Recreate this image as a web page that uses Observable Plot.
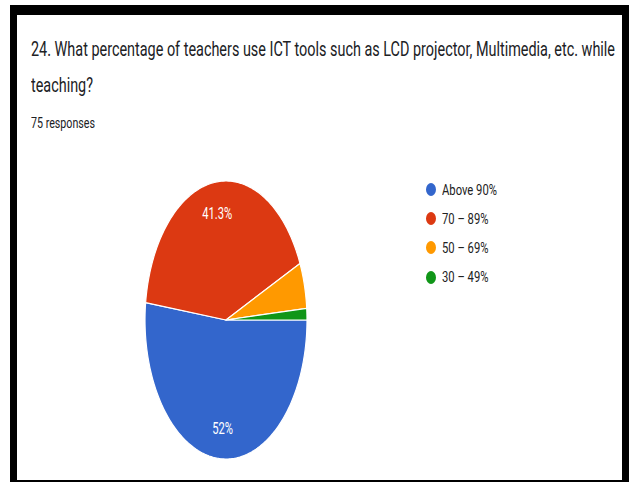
<!DOCTYPE html>
<html>
<head>
<meta charset="utf-8">
<script src="https://cdn.jsdelivr.net/npm/d3@7"></script>
<script src="https://cdn.jsdelivr.net/npm/@observablehq/plot@0.6"></script>
<style>
  html, body { margin: 0; padding: 0; background: #fff; }
  body { width: 629px; height: 482px; position: relative; overflow: hidden; font-family: Roboto, "Noto Sans", sans-serif; }
  #frame { position: absolute; left: 10px; top: 5px; width: 619px; height: 477px; box-sizing: border-box;
           border-left: 7px solid #000; border-right: 7px solid #000; border-top: 10px solid #000; border-bottom: 2px solid #000; }
  .t { position: absolute; white-space: nowrap; display: inline-block; transform-origin: 0 0; color: #202124; }
  .title { font-size: 21px; line-height: 21px; left: 31px; }
  .sub { font-size: 14.5px; line-height: 14px; left: 31px; }
  #chart { position: absolute; left: 0; top: 140px; }
  .leg { position: absolute; left: 426px; display: flex; align-items: center; height: 14px; }
  .leg .dot { width: 10px; height: 13px; border-radius: 50%; margin-right: 6px; flex: none; }
  .leg .lab { font-size: 15px; line-height: 14px; color: #222; white-space: nowrap; display: inline-block; transform-origin: 0 50%; }
</style>
</head>
<body>
<div id="frame"></div>
<div id="t1" class="t title" style="top:39px">24. What percentage of teachers use ICT tools such as LCD projector, Multimedia, etc. while</div>
<div id="t2" class="t title" style="top:75px">teaching?</div>
<div id="t3" class="t sub" style="top:117px">75 responses</div>
<div id="chart"></div>
<div id="legend"></div>
<script>
const categories = ["Above 90%", "70 – 89%", "50 – 69%", "30 – 49%"];
const counts = [39, 31, 4, 1];
const colors = ["#3366cc", "#dc3912", "#ff9900", "#109618"];
const totalResponses = 75;

// slice geometry from the counts (angles clockwise from 3 o'clock)
const total = d3.sum(counts);
const points = [];
const labelData = [];
let acc = 0;
categories.forEach((c, i) => {
  const a0 = acc / total * 2 * Math.PI;
  acc += counts[i];
  const a1 = acc / total * 2 * Math.PI;
  const n = Math.max(2, Math.ceil((a1 - a0) * 180 / Math.PI) + 1);
  for (let k = 0; k <= n; k++) {
    const a = a0 + (a1 - a0) * k / n;
    points.push({category: c, x: Math.cos(a), y: Math.sin(a)});
  }
  const pct = counts[i] / total * 100;
  if (pct > 10) {
    const m = (a0 + a1) / 2;
    labelData.push({category: c, x: 0.78 * Math.cos(m), y: 0.78 * Math.sin(m), label: (Math.round(pct * 10) / 10) + "%"});
  }
});

const plot = Plot.plot({
  width: 629,
  height: 342,
  marginLeft: 145,
  marginRight: 322,
  marginTop: 41,
  marginBottom: 23,
  x: {domain: [-1, 1], axis: null},
  y: {domain: [1, -1], axis: null},
  color: {domain: categories, range: colors},
  style: {background: "transparent", fontFamily: "Roboto, sans-serif"},
  marks: [
    Plot.area(points, {x1: "x", y1: "y", x2: () => 0, y2: () => 0, z: "category", fill: "category", stroke: "white", strokeWidth: 1.2, curve: "linear"}),
    Plot.text(labelData, {x: "x", y: "y", text: "label", fill: "white", fontSize: 17})
  ]
});
document.getElementById("chart").appendChild(plot);

// legend
const legend = document.getElementById("legend");
categories.forEach((c, i) => {
  const item = document.createElement("div");
  item.className = "leg";
  item.style.top = (182.5 + 29.2 * i) + "px";
  const dot = document.createElement("span");
  dot.className = "dot";
  dot.style.background = colors[i];
  const lab = document.createElement("span");
  lab.className = "lab";
  lab.textContent = c;
  item.appendChild(dot);
  item.appendChild(lab);
  legend.appendChild(item);
});

function fitAll() {
  const fit = (el, target) => {
    el.style.transform = "none";
    const w = el.getBoundingClientRect().width;
    if (w > 0) el.style.transform = `scaleX(${target / w})`;
    return w > 0 ? target / w : 1;
  };
  fit(document.getElementById("t1"), 584);
  fit(document.getElementById("t2"), 62);
  fit(document.getElementById("t3"), 64);
  const labs = legend.querySelectorAll(".lab");
  labs[0].style.transform = "none";
  const w0 = labs[0].getBoundingClientRect().width;
  const kl = w0 > 0 ? 55 / w0 : 1;
  labs.forEach(l => l.style.transform = `scaleX(${kl})`);
  const texts = plot.querySelectorAll('g[aria-label="text"] text');
  let kt = 1;
  texts.forEach(t => { t.removeAttribute("textLength"); });
  texts.forEach(t => {
    if (t.textContent === "41.3%") { const w = t.getComputedTextLength(); if (w > 0) kt = 30 / w; }
  });
  texts.forEach(t => {
    const w = t.getComputedTextLength();
    t.setAttribute("textLength", w * kt);
    t.setAttribute("lengthAdjust", "spacingAndGlyphs");
  });
}
fitAll();
if (document.fonts && document.fonts.ready) document.fonts.ready.then(fitAll);
</script>
</body>
</html>
